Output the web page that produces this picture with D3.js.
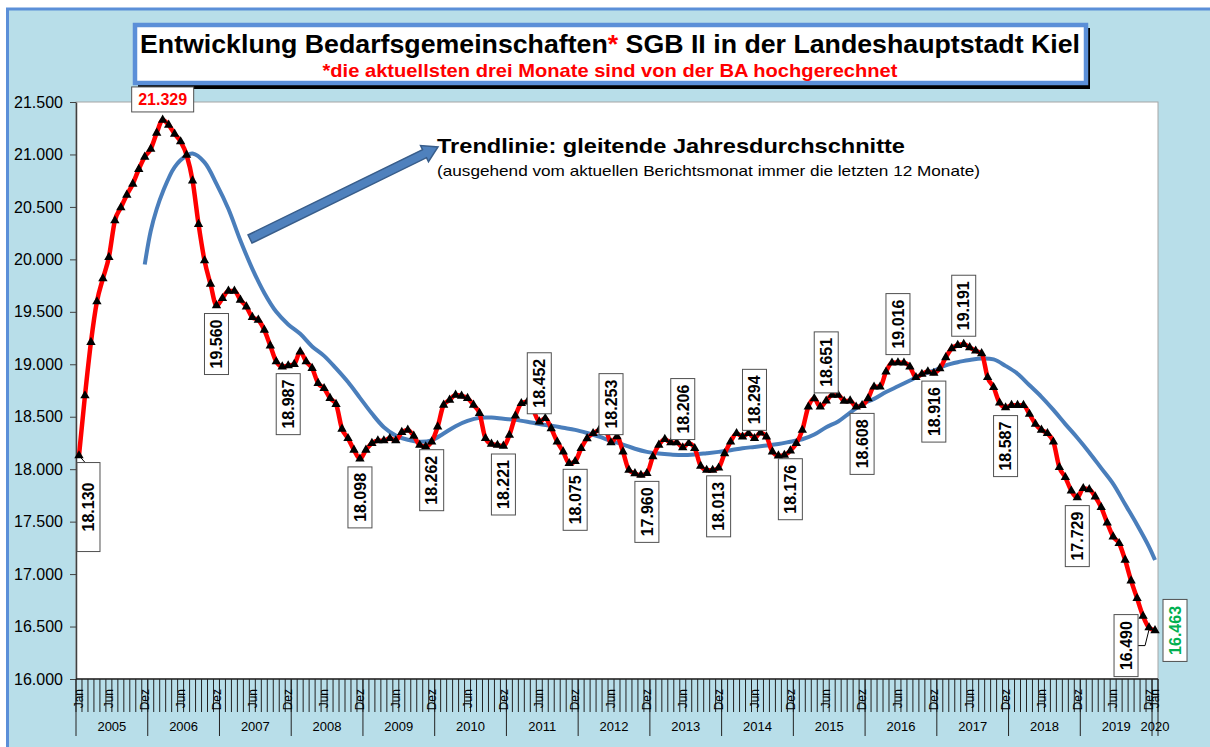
<!DOCTYPE html>
<html>
<head>
<meta charset="utf-8">
<script src="https://cdnjs.cloudflare.com/ajax/libs/d3/7.8.5/d3.min.js"></script>
<style>
    body { margin: 0; background: #ffffff; }
    svg { display: block; }
</style>
</head>
<body>
<svg id="chart"></svg>
<script>

// data declaration
// Bedarfsgemeinschaften SGB II, Kiel, monthly Jan 2005 .. Jan 2020
const years = [2005, 2006, 2007, 2008, 2009, 2010, 2011, 2012, 2013, 2014, 2015, 2016, 2017, 2018, 2019, 2020];
const monthNames = ['Jan', 'Feb', 'Mrz', 'Apr', 'Mai', 'Jun', 'Jul', 'Aug', 'Sep', 'Okt', 'Nov', 'Dez'];

const bgValues = [
    18130, 18701, 19210, 19597, 19816, 20020, 20369, 20493, 20614, 20719, 20859, 20976, // 2005
    21052, 21205, 21329, 21281, 21195, 21122, 20995, 20750, 20335, 19988, 19765, 19560, // 2006
    19629, 19699, 19699, 19613, 19549, 19448, 19422, 19327, 19177, 19025, 18977, 18987, // 2007
    19000, 19120, 19025, 18962, 18819, 18771, 18676, 18619, 18383, 18294, 18183, 18098, // 2008
    18183, 18247, 18272, 18272, 18294, 18272, 18352, 18374, 18317, 18230, 18215, 18262, // 2009
    18405, 18612, 18660, 18707, 18698, 18676, 18612, 18533, 18294, 18240, 18230, 18221, // 2010
    18325, 18508, 18627, 18642, 18563, 18452, 18485, 18388, 18261, 18166, 18055, 18075, // 2011
    18198, 18293, 18341, 18372, 18380, 18253, 18310, 18166, 17991, 17959, 17943, 17960, // 2012
    18120, 18231, 18285, 18253, 18253, 18206, 18246, 18199, 18030, 17991, 17991, 18013, // 2013
    18150, 18261, 18341, 18309, 18341, 18294, 18347, 18309, 18166, 18128, 18134, 18176, // 2014
    18246, 18372, 18594, 18674, 18594, 18651, 18706, 18706, 18649, 18652, 18594, 18608, // 2015
    18674, 18785, 18785, 18928, 19014, 19016, 19014, 18976, 18875, 18906, 18930, 18916, // 2016
    18960, 19065, 19151, 19182, 19191, 19160, 19128, 19103, 18875, 18780, 18632, 18587, // 2017
    18610, 18610, 18610, 18525, 18430, 18374, 18341, 18261, 18017, 17922, 17794, 17729, // 2018
    17817, 17807, 17737, 17636, 17489, 17356, 17293, 17134, 16937, 16769, 16600, 16490, // 2019
    16463                                                                                // 2020
];

// trend line (gleitende Jahresdurchschnitte)
const trendMonth = [11, 12, 13, 14, 16, 18, 19, 21, 23, 25, 27, 29, 31, 33, 35, 37, 39, 41, 43, 45,
    47, 49, 51, 53, 55, 57, 59, 61, 63, 65, 67, 69, 71, 73, 75, 77, 79, 81, 83, 85,
    87, 89, 91, 93, 95, 97, 99, 101, 103, 105, 107, 109, 111, 113, 115, 117, 119, 121, 123, 125,
    127, 129, 131, 133, 135, 137, 139, 141, 143, 145, 147, 149, 151, 153, 155, 157, 159, 161, 163, 165,
    167, 169, 171, 173, 175, 177, 179, 180];
const trendValue = [19951, 20270, 20480, 20640, 20880, 20990, 21009, 20925, 20720, 20480, 20180, 19910, 19680, 19500, 19380, 19290, 19170, 19080, 18960, 18830,
    18680, 18530, 18400, 18320, 18280, 18261, 18275, 18340, 18410, 18460, 18490, 18492, 18480, 18470, 18452, 18430, 18415, 18395, 18375, 18345,
    18310, 18270, 18235, 18195, 18165, 18150, 18140, 18134, 18140, 18152, 18165, 18180, 18200, 18212, 18225, 18240, 18262, 18285, 18330, 18400,
    18455, 18540, 18620, 18670, 18735, 18790, 18845, 18900, 18940, 18990, 19020, 19040, 19055, 19046, 18985, 18910, 18800, 18690, 18565, 18430,
    18300, 18160, 18010, 17860, 17665, 17470, 17260, 17134];

const yTicks = [16000, 16500, 17000, 17500, 18000, 18500, 19000, 19500, 20000, 20500, 21000, 21500];

// months carrying a value label
const labelsBelow = [23, 35, 47, 59, 71, 83, 95, 107, 119, 131, 143, 155, 167];
const labelsAbove = [77, 89, 101, 113, 125, 137, 148];
const peakMonth = 14;

const red = '#ff0000';
const blue = '#4a7ebb';
const frameBlue = '#5b8fd8';
const green = '#00b050';
const font = '"Liberation Sans", Arial, sans-serif';
const narrow = '"Liberation Sans Narrow", "Arial Narrow", "Liberation Sans", sans-serif';

const de = d3.formatLocale({decimal: ',', thousands: '.', grouping: [3], currency: ['', ' €']});
const fmt = de.format(',d');

function drawChart() {

    const W = 1210, H = 747;
    const plot = {left: 76, right: 1158, top: 102, bottom: 679};

    const svg = d3.select('#chart')
        .attr('width', W)
        .attr('height', H);

    // background frame
    svg.append('rect')
        .attr('x', 7.5).attr('y', 9)
        .attr('width', W).attr('height', H)
        .style('fill', '#b8dee9')
        .style('stroke', frameBlue)
        .style('stroke-width', 3);

    // scales
    const months = d3.range(bgValues.length);
    const x = d3.scalePoint().domain(months).range([plot.left, plot.right]).padding(0.5);
    const y = d3.scaleLinear().domain([16000, 21500]).range([plot.bottom, plot.top]);
    const step = x.step();

    // plot area
    svg.append('rect')
        .attr('x', plot.left).attr('y', plot.top)
        .attr('width', plot.right - plot.left)
        .attr('height', plot.bottom - plot.top)
        .style('fill', '#ffffff')
        .style('stroke', '#a6a6a6')
        .style('stroke-width', 1);

    // title box with shadow
    svg.append('rect')
        .attr('x', 138).attr('y', 28)
        .attr('width', 952).attr('height', 61)
        .style('fill', '#000000');
    svg.append('rect')
        .attr('x', 135).attr('y', 25)
        .attr('width', 951).attr('height', 58)
        .style('fill', '#ffffff')
        .style('stroke', frameBlue)
        .style('stroke-width', 4.5);

    const title = svg.append('text')
        .attr('x', 610).attr('y', 53)
        .attr('text-anchor', 'middle')
        .style('font-family', font)
        .style('font-weight', 'bold')
        .style('font-size', '26.5px')
        .attr('textLength', 940)
        .attr('lengthAdjust', 'spacingAndGlyphs');
    title.append('tspan').text('Entwicklung Bedarfsgemeinschaften');
    title.append('tspan').style('fill', red).text('*');
    title.append('tspan').text(' SGB II in der Landeshauptstadt Kiel');

    svg.append('text')
        .attr('x', 610).attr('y', 77)
        .attr('text-anchor', 'middle')
        .style('font-family', font)
        .style('font-weight', 'bold')
        .style('font-size', '19px')
        .style('fill', red)
        .attr('textLength', 575)
        .attr('lengthAdjust', 'spacingAndGlyphs')
        .text('*die aktuellsten drei Monate sind von der BA hochgerechnet');

    // Y axis
    const yAxis = svg.append('g')
        .attr('transform', 'translate(' + plot.left + ',0)')
        .call(d3.axisLeft(y).tickValues(yTicks).tickFormat(fmt).tickSize(6).tickSizeOuter(0).tickPadding(7));
    yAxis.select('.domain').style('stroke', '#404040').style('stroke-width', 1.5);
    yAxis.selectAll('.tick line').style('stroke', '#404040');
    yAxis.selectAll('.tick text')
        .style('font-family', font)
        .style('font-size', '16px')
        .style('fill', '#000');

    // X axis: month ticks, month labels, year separators
    const xg = svg.append('g').attr('class', 'xaxis');
    const edges = d3.range(bgValues.length + 1);

    xg.selectAll('.mtick')
        .data(edges)
        .enter().append('line')
        .attr('x1', d => plot.left + d * step)
        .attr('x2', d => plot.left + d * step)
        .attr('y1', plot.bottom)
        .attr('y2', plot.bottom + 33)
        .style('stroke', '#222')
        .style('stroke-width', 1);

    const yearEdges = edges.filter(d => d % 12 === 0 || d === bgValues.length);
    xg.selectAll('.ytick')
        .data(yearEdges)
        .enter().append('line')
        .attr('x1', d => plot.left + d * step)
        .attr('x2', d => plot.left + d * step)
        .attr('y1', plot.bottom)
        .attr('y2', plot.bottom + 57)
        .style('stroke', '#222')
        .style('stroke-width', 1);

    xg.append('line')
        .attr('x1', plot.left).attr('x2', plot.right)
        .attr('y1', plot.bottom).attr('y2', plot.bottom)
        .style('stroke', '#222')
        .style('stroke-width', 1.5);

    const labelled = months.filter(i => i === 0 || i === months.length - 1 || i % 12 === 5 || i % 12 === 11);
    xg.selectAll('.mlabel')
        .data(labelled)
        .enter().append('text')
        .attr('transform', i => 'translate(' + x(i) + ',' + (plot.bottom + 10) + ') rotate(-90)')
        .attr('text-anchor', 'end')
        .attr('dy', '0.35em')
        .style('font-family', font)
        .style('font-size', '12px')
        .text(i => monthNames[i % 12]);

    xg.selectAll('.ylabel')
        .data(years)
        .enter().append('text')
        .attr('x', (d, k) => {
            const a = plot.left + k * 12 * step;
            const b = Math.min(plot.left + (k + 1) * 12 * step, plot.right);
            return (a + b) / 2;
        })
        .attr('y', plot.bottom + 52)
        .attr('text-anchor', 'middle')
        .style('font-family', font)
        .style('font-size', '13px')
        .text(d => d);

    // trend line
    const trend = trendMonth.map((m, k) => ({m: m, v: trendValue[k]}));
    svg.append('path')
        .datum(trend)
        .attr('d', d3.line().x(d => x(d.m)).y(d => y(d.v)).curve(d3.curveCatmullRom))
        .style('fill', 'none')
        .style('stroke', blue)
        .style('stroke-width', 4);

    // main series
    svg.append('path')
        .datum(bgValues)
        .attr('d', d3.line().x((d, i) => x(i)).y(d => y(d)).curve(d3.curveMonotoneX))
        .style('fill', 'none')
        .style('stroke', red)
        .style('stroke-width', 4.5)
        .style('stroke-linejoin', 'round');

    svg.selectAll('.marker')
        .data(bgValues)
        .enter().append('path')
        .attr('transform', (d, i) => 'translate(' + x(i) + ',' + y(d) + ')')
        .attr('d', d3.symbol(d3.symbolTriangle, 38))
        .style('fill', '#000');

    // arrow pointing to the trend note
    const tail = [250, 239], tip = [438, 147];
    const dx = tip[0] - tail[0], dy = tip[1] - tail[1];
    const len = Math.sqrt(dx * dx + dy * dy);
    const u = [dx / len, dy / len], n = [-u[1], u[0]];
    const neck = [tip[0] - u[0] * 15, tip[1] - u[1] * 15];
    const pt = (p, s) => [p[0] + n[0] * s, p[1] + n[1] * s];
    svg.append('path')
        .attr('d', d3.line()([pt(tail, 4.5), pt(neck, 4.5), pt(neck, 9), tip, pt(neck, -9), pt(neck, -4.5), pt(tail, -4.5)]) + 'Z')
        .style('fill', '#4f81bd')
        .style('stroke', '#385d8a')
        .style('stroke-width', 1.5);

    svg.append('text')
        .attr('x', 437).attr('y', 153)
        .style('font-family', narrow)
        .style('font-weight', 'bold')
        .style('font-size', '21px')
        .attr('textLength', 468)
        .attr('lengthAdjust', 'spacingAndGlyphs')
        .text('Trendlinie: gleitende Jahresdurchschnitte');

    svg.append('text')
        .attr('x', 437).attr('y', 176)
        .style('font-family', narrow)
        .style('font-size', '14.5px')
        .attr('textLength', 543)
        .attr('lengthAdjust', 'spacingAndGlyphs')
        .text('(ausgehend vom aktuellen Berichtsmonat immer die letzten 12 Monate)');

    // value labels
    const labels = svg.append('g');

    function vLabel(bx, by, w, h, value, colour) {
        labels.append('rect')
            .attr('x', bx).attr('y', by)
            .attr('width', w).attr('height', h)
            .style('fill', '#fff')
            .style('stroke', '#505050')
            .style('stroke-width', 1);
        labels.append('text')
            .attr('transform', 'translate(' + (bx + w / 2) + ',' + (by + h / 2) + ') rotate(-90)')
            .attr('text-anchor', 'middle')
            .attr('dy', '0.36em')
            .style('font-family', font)
            .style('font-weight', 'bold')
            .style('font-size', '16px')
            .style('fill', colour || '#000')
            .text(fmt(value));
    }

    labelsBelow.forEach(i => vLabel(x(i) - 12, y(bgValues[i]) + 8, 24, 61, bgValues[i]));
    labelsAbove.forEach(i => vLabel(x(i) - 12, y(bgValues[i]) - 69, 24, 61, bgValues[i]));

    // first month
    const p0 = [x(0), y(bgValues[0])];
    labels.append('line')
        .attr('x1', p0[0]).attr('y1', p0[1])
        .attr('x2', p0[0] + 7).attr('y2', p0[1] + 8)
        .style('stroke', '#000');
    vLabel(p0[0] - 2, p0[1] + 7, 23, 89, bgValues[0]);

    // peak
    const pk = [x(peakMonth), y(bgValues[peakMonth])];
    labels.append('rect')
        .attr('x', pk[0] - 31).attr('y', pk[1] - 33)
        .attr('width', 62).attr('height', 25)
        .style('fill', '#fff')
        .style('stroke', '#505050');
    labels.append('text')
        .attr('x', pk[0]).attr('y', pk[1] - 14.5)
        .attr('text-anchor', 'middle')
        .style('font-family', font)
        .style('font-weight', 'bold')
        .style('font-size', '16px')
        .style('fill', red)
        .text(fmt(bgValues[peakMonth]));

    // last two months
    const iPrev = bgValues.length - 2, iLast = bgValues.length - 1;
    const pp = [x(iPrev), y(bgValues[iPrev])];
    labels.append('path')
        .attr('d', d3.line()([[pp[0] - 11, pp[1] + 18], [pp[0] - 4, pp[1] + 18], [pp[0], pp[1] + 2]]))
        .style('fill', 'none')
        .style('stroke', '#000');
    vLabel(pp[0] - 35, pp[1] - 13, 24, 62, bgValues[iPrev]);

    const pl = [x(iLast), y(bgValues[iLast])];
    vLabel(pl[0] + 8, pl[1] - 31, 24, 62, bgValues[iLast], green);
}

drawChart();

</script>
</body>
</html>
